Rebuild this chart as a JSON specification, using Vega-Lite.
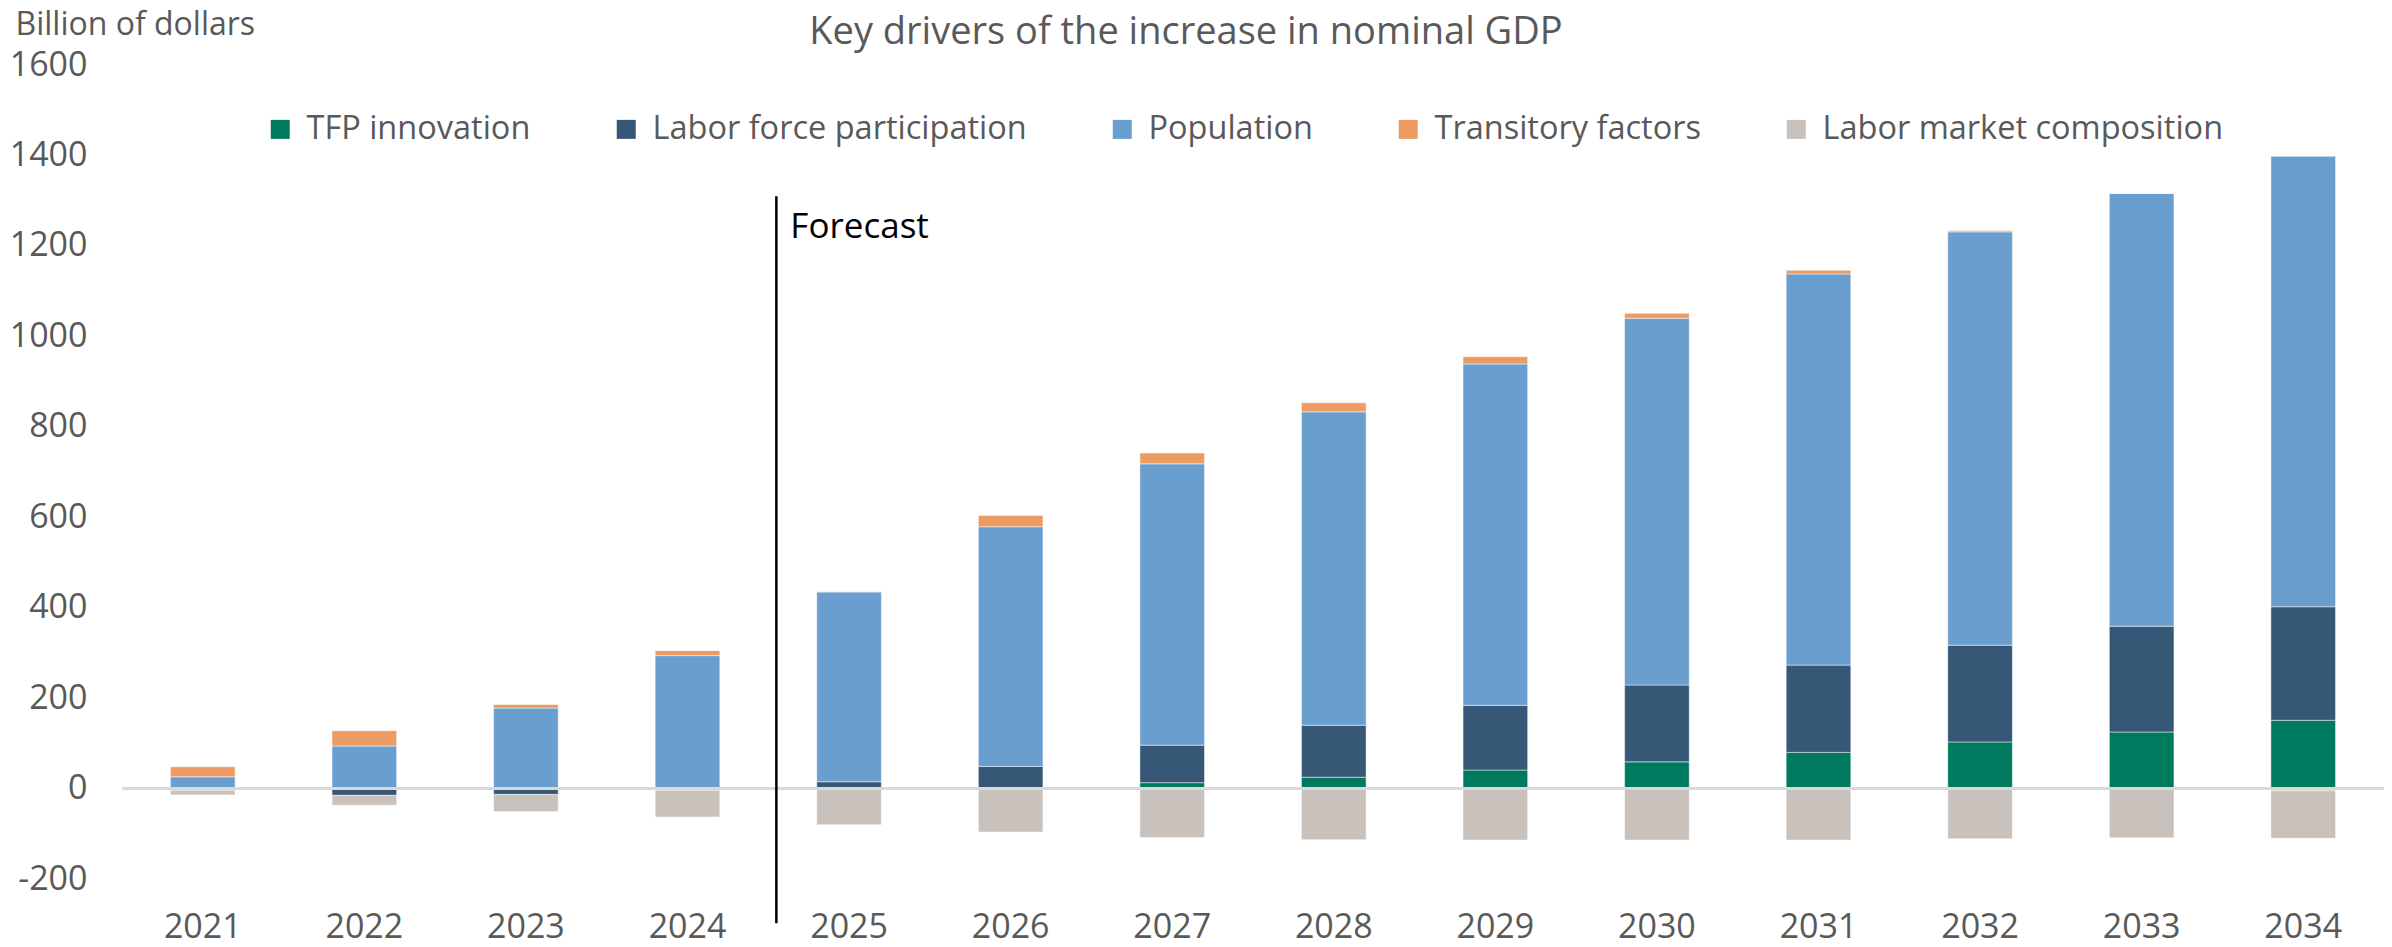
{
  "$schema": "https://vega.github.io/schema/vega-lite/v6.json",
  "autosize": {"type": "none"},
  "padding": {"left": 122, "top": 65, "right": 8, "bottom": 68},
  "width": 2262,
  "height": 814,
  "background": "white",
  "config": {
    "font": "Open Sans",
    "view": {"stroke": null},
    "axis": {"labelFont": "Open Sans", "titleFont": "Open Sans"},
    "legend": {"labelFont": "Open Sans"}
  },
  "title": {
    "text": "Key drivers of the increase in nominal GDP",
    "fontSize": 38,
    "fontWeight": "normal",
    "color": "#595959",
    "font": "Open Sans",
    "anchor": "middle",
    "frame": "group",
    "dx": -67,
    "offset": -44
  },
  "datasets": {
    "drivers": [
      {"year": "2021", "factor": "TFP innovation", "value": 0},
      {"year": "2021", "factor": "Labor force participation", "value": -4},
      {"year": "2021", "factor": "Population", "value": 26},
      {"year": "2021", "factor": "Transitory factors", "value": 22},
      {"year": "2021", "factor": "Labor market composition", "value": -10},
      {"year": "2022", "factor": "TFP innovation", "value": 0},
      {"year": "2022", "factor": "Labor force participation", "value": -15},
      {"year": "2022", "factor": "Population", "value": 94},
      {"year": "2022", "factor": "Transitory factors", "value": 34},
      {"year": "2022", "factor": "Labor market composition", "value": -22},
      {"year": "2023", "factor": "TFP innovation", "value": 0},
      {"year": "2023", "factor": "Labor force participation", "value": -13},
      {"year": "2023", "factor": "Population", "value": 178},
      {"year": "2023", "factor": "Transitory factors", "value": 8},
      {"year": "2023", "factor": "Labor market composition", "value": -38},
      {"year": "2024", "factor": "TFP innovation", "value": 0},
      {"year": "2024", "factor": "Labor force participation", "value": -4},
      {"year": "2024", "factor": "Population", "value": 294},
      {"year": "2024", "factor": "Transitory factors", "value": 11},
      {"year": "2024", "factor": "Labor market composition", "value": -59},
      {"year": "2025", "factor": "TFP innovation", "value": 0},
      {"year": "2025", "factor": "Labor force participation", "value": 15},
      {"year": "2025", "factor": "Population", "value": 420},
      {"year": "2025", "factor": "Transitory factors", "value": 0},
      {"year": "2025", "factor": "Labor market composition", "value": -80},
      {"year": "2026", "factor": "TFP innovation", "value": 2},
      {"year": "2026", "factor": "Labor force participation", "value": 47},
      {"year": "2026", "factor": "Population", "value": 530},
      {"year": "2026", "factor": "Transitory factors", "value": 25},
      {"year": "2026", "factor": "Labor market composition", "value": -96},
      {"year": "2027", "factor": "TFP innovation", "value": 13},
      {"year": "2027", "factor": "Labor force participation", "value": 83},
      {"year": "2027", "factor": "Population", "value": 622},
      {"year": "2027", "factor": "Transitory factors", "value": 24},
      {"year": "2027", "factor": "Labor market composition", "value": -108},
      {"year": "2028", "factor": "TFP innovation", "value": 25},
      {"year": "2028", "factor": "Labor force participation", "value": 115},
      {"year": "2028", "factor": "Population", "value": 693},
      {"year": "2028", "factor": "Transitory factors", "value": 20},
      {"year": "2028", "factor": "Labor market composition", "value": -113},
      {"year": "2029", "factor": "TFP innovation", "value": 41},
      {"year": "2029", "factor": "Labor force participation", "value": 143},
      {"year": "2029", "factor": "Population", "value": 755},
      {"year": "2029", "factor": "Transitory factors", "value": 16},
      {"year": "2029", "factor": "Labor market composition", "value": -114},
      {"year": "2030", "factor": "TFP innovation", "value": 59},
      {"year": "2030", "factor": "Labor force participation", "value": 170},
      {"year": "2030", "factor": "Population", "value": 811},
      {"year": "2030", "factor": "Transitory factors", "value": 11},
      {"year": "2030", "factor": "Labor market composition", "value": -114},
      {"year": "2031", "factor": "TFP innovation", "value": 80},
      {"year": "2031", "factor": "Labor force participation", "value": 193},
      {"year": "2031", "factor": "Population", "value": 865},
      {"year": "2031", "factor": "Transitory factors", "value": 8},
      {"year": "2031", "factor": "Labor market composition", "value": -114},
      {"year": "2032", "factor": "TFP innovation", "value": 103},
      {"year": "2032", "factor": "Labor force participation", "value": 214},
      {"year": "2032", "factor": "Population", "value": 914},
      {"year": "2032", "factor": "Transitory factors", "value": 3},
      {"year": "2032", "factor": "Labor market composition", "value": -111},
      {"year": "2033", "factor": "TFP innovation", "value": 125},
      {"year": "2033", "factor": "Labor force participation", "value": 234},
      {"year": "2033", "factor": "Population", "value": 957},
      {"year": "2033", "factor": "Transitory factors", "value": 0},
      {"year": "2033", "factor": "Labor market composition", "value": -109},
      {"year": "2034", "factor": "TFP innovation", "value": 151},
      {"year": "2034", "factor": "Labor force participation", "value": 251},
      {"year": "2034", "factor": "Population", "value": 996},
      {"year": "2034", "factor": "Transitory factors", "value": -5},
      {"year": "2034", "factor": "Labor market composition", "value": -105}
    ]
  },
  "layer": [
    {
      "data": {"name": "drivers"},
      "transform": [
        {"calculate": "indexof(['TFP innovation', 'Labor force participation', 'Population', 'Transitory factors', 'Labor market composition'], datum.factor)", "as": "rank"}
      ],
      "mark": {"type": "bar", "stroke": "#ffffff", "strokeWidth": 0.8, "strokeOpacity": 0.6},
      "encoding": {
        "x": {
          "field": "year",
          "type": "ordinal",
          "scale": {"paddingInner": 0.6, "paddingOuter": 0.3},
          "axis": {
            "title": null,
            "labelAngle": 0,
            "labelFontSize": 34,
            "labelColor": "#595959",
            "labelBaseline": "middle",
            "labelPadding": 48,
            "ticks": false,
            "domain": false,
            "grid": false
          }
        },
        "y": {
          "field": "value",
          "type": "quantitative",
          "stack": "zero",
          "scale": {"domain": [-200, 1600], "nice": false},
          "axis": {
            "values": [-200, 0, 200, 400, 600, 800, 1000, 1200, 1400, 1600],
            "labelExpr": "'' + datum.value",
            "grid": false,
            "domain": false,
            "ticks": false,
            "labelFontSize": 34,
            "labelColor": "#595959",
            "labelPadding": 35,
            "title": "Billion of dollars",
            "titleAngle": 0,
            "titleAlign": "left",
            "titleBaseline": "middle",
            "titleX": -107,
            "titleY": -41,
            "titleFontSize": 32,
            "titleFontWeight": "normal",
            "titleColor": "#595959"
          }
        },
        "color": {
          "field": "factor",
          "type": "nominal",
          "sort": ["TFP innovation", "Labor force participation", "Population", "Transitory factors", "Labor market composition"],
          "scale": {
            "domain": ["TFP innovation", "Labor force participation", "Population", "Transitory factors", "Labor market composition"],
            "range": ["#007a5f", "#375776", "#6a9ecf", "#ec9b62", "#c9c1bb"]
          },
          "legend": {
            "title": null,
            "orient": "none",
            "legendX": 142,
            "legendY": 48,
            "direction": "horizontal",
            "columns": 5,
            "columnPadding": 79,
            "symbolType": "square",
            "symbolSize": 361,
            "symbolStrokeWidth": 0,
            "labelOffset": 10,
            "labelFontSize": 32.5,
            "labelColor": "#595959",
            "labelLimit": 600
          }
        },
        "order": {"field": "rank", "type": "quantitative", "sort": "ascending"}
      }
    },
    {
      "data": {"values": [{"v": 0}]},
      "mark": {"type": "rule", "color": "#d9d9d9", "strokeWidth": 3},
      "encoding": {"y": {"field": "v", "type": "quantitative"}}
    },
    {
      "data": {"values": [{"year": "2024", "top": 1310, "bottom": -298}]},
      "mark": {"type": "rule", "color": "#000000", "strokeWidth": 2.5, "clip": false},
      "encoding": {
        "x": {"field": "year", "type": "ordinal", "bandPosition": 1.875},
        "y": {"field": "top", "type": "quantitative"},
        "y2": {"field": "bottom"}
      }
    },
    {
      "data": {"values": [{"year": "2024", "pos": 1242, "label": "Forecast"}]},
      "mark": {"type": "text", "align": "left", "baseline": "middle", "dx": 14, "fontSize": 35, "color": "#000000", "font": "Open Sans"},
      "encoding": {
        "x": {"field": "year", "type": "ordinal", "bandPosition": 1.875},
        "y": {"field": "pos", "type": "quantitative"},
        "text": {"field": "label"}
      }
    }
  ]
}
